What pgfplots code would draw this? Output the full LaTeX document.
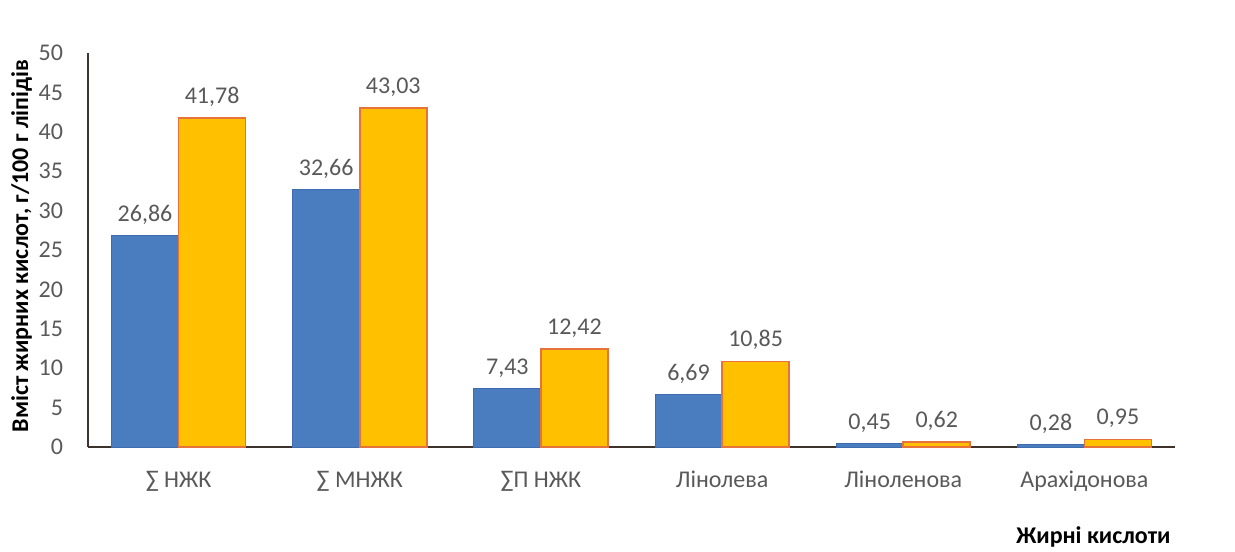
\documentclass[border=0pt]{standalone}
\usepackage{pgfplots}
\pgfplotsset{compat=1.18}
\usepackage{fontspec}
\setmainfont{Carlito}
\definecolor{cblue}{HTML}{4A7CC0}
\definecolor{cblueedge}{HTML}{3F6CAE}
\definecolor{corange}{HTML}{FFC000}
\definecolor{corangeedge}{HTML}{E8733A}
\definecolor{caxis}{HTML}{3E332C}
\definecolor{ctext}{HTML}{595959}
\begin{document}
\begin{tikzpicture}
\useasboundingbox (-44pt,-52pt) rectangle (573.5pt,223.5pt);
\begin{axis}[
  at={(0,0)}, anchor=south west,
  scale only axis,
  width=543.5pt, height=197pt,
  xmin=-0.5, xmax=5.5,
  ymin=0, ymax=50,
  ytick={0,5,...,50},
  xtick={0,1,2,3,4,5},
  xticklabels={∑ НЖК, ∑ МНЖК, ∑П НЖК, Лінолева, Ліноленова, Арахідонова},
  axis x line*=bottom, axis y line*=left,
  x axis line style={-, line width=1.2pt, color=caxis},
  y axis line style={-, line width=1pt, color=caxis},
  major tick length=0pt,
  tick style={draw=none},
  ybar=0pt, bar width=0.37,
  tick label style={font=\fontsize{12}{14}\selectfont, color=ctext},
  yticklabel style={xshift=-9pt},
  xticklabel style={yshift=-8.5pt},
  /pgf/number format/assume math mode=true,
  nodes near coords,
  nodes near coords style={font=\fontsize{12}{14}\selectfont, color=ctext, yshift=2pt,
    /pgf/number format/.cd, use comma, fixed, fixed zerofill, precision=2},
  ylabel={\textbf{Вміст жирних кислот, г/100 г ліпідів}},
  ylabel style={at={(axis description cs:-0.061,0.51)}, anchor=center, font=\fontsize{12}{14}\selectfont, color=black},
  clip=false,
]
\addplot[fill=cblue, draw=cblueedge, line width=0.4pt] coordinates {(0,26.86) (1,32.66) (2,7.43) (3,6.69) (4,0.45) (5,0.28)};
\addplot[fill=corange, draw=corangeedge, line width=0.8pt] coordinates {(0,41.78) (1,43.03) (2,12.42) (3,10.85) (4,0.62) (5,0.95)};
\node[font=\bfseries\fontsize{12}{14}\selectfont, anchor=center] at (axis cs:5.05,0) [yshift=-45pt] {Жирні кислоти};
\end{axis}
\end{tikzpicture}
\end{document}
